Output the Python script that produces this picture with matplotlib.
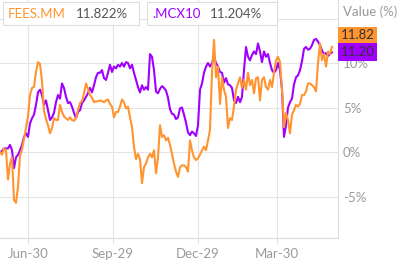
import numpy as np
import matplotlib
matplotlib.use("Agg")
import matplotlib.pyplot as plt
from matplotlib.patches import Rectangle

# values in %, one sample per ~1.5 trading days
fees = [
    0.0, -0.3, 0.4, 0.2, -3.1, -1.3, -0.6, -5.4, -5.7, -3.9,
    -0.4, 0.3, 1.5, 2.7, 4.0, 6.4, 7.2, 7.3, 9.0, 10.1,
    9.9, 8.0, 4.6, 3.7, 3.0, 2.1, 2.7, 3.8, 3.6, 3.6,
    5.3, 4.5, 4.0, 3.8, 3.6, 3.9, 3.6, 3.5, 3.8, 4.7,
    5.5, 5.7, 6.6, 7.7, 7.1, 6.4, 6.1, 5.6, 5.7, 5.7,
    5.8, 5.7, 5.6, 5.8, 5.9, 5.4, 5.1, 3.9, 4.5, 4.5,
    5.1, 5.9, 5.6, 4.9, 5.1, 3.9, 2.8, 0.6, -0.8, -0.2,
    -0.8, -3.5, -1.7, -1.3, -0.6, -0.2, -0.6, 0.2, -2.4, -0.6,
    3.0, 1.7, 1.9, 1.3, 1.6, 0.8, -0.2, -1.3, -2.2, -2.8,
    -1.7, -1.5, -1.5, -1.7, -2.2, 1.3, 0.2, -0.6, -0.9, -0.7,
    -0.3, 0.2, 0.6, 0.2, 1.3, 2.5, 8.9, 12.6, 8.4, 9.6,
    5.4, 8.4, 7.0, 6.2, 2.7, 3.8, 3.6, 5.1, 7.0, 7.7,
    8.4, 7.2, 8.1, 7.0, 8.9, 7.5, 8.1, 6.6, 8.3, 8.4,
    5.8, 8.1, 8.4, 7.3, 7.0, 8.1, 7.3, 8.9, 10.3, 10.7,
    10.1, 7.0, 2.8, 4.4, 3.6, 2.1, 4.2, 4.7, 5.3, 5.1,
    5.4, 6.4, 6.4, 6.8, 7.7, 7.7, 7.5, 7.3, 6.8, 10.0,
    12.2, 10.3, 11.0, 9.6, 11.3, 11.0, 11.822,
]
mcx = [
    0.0, 0.1, 0.4, 0.4, 0.4, 0.8, 0.2, -1.8, -0.6, -0.3,
    0.2, 0.8, 1.7, 2.1, 1.7, 3.2, 3.8, 4.2, 5.3, 6.7,
    7.0, 6.4, 5.3, 5.8, 4.7, 3.6, 3.9, 4.4, 5.6, 6.4,
    6.0, 7.7, 7.2, 6.2, 5.5, 5.6, 5.1, 4.4, 3.8, 4.5,
    4.7, 5.5, 5.8, 6.2, 6.6, 7.2, 6.7, 7.5, 8.4, 8.9,
    8.9, 9.2, 8.3, 8.1, 8.9, 9.8, 9.0, 9.6, 9.4, 9.8,
    9.6, 10.0, 9.6, 10.1, 10.0, 9.4, 9.8, 8.9, 8.1, 7.3,
    6.7, 7.5, 7.0, 7.3, 7.0, 11.0, 10.7, 9.2, 6.8, 6.6,
    7.1, 7.4, 7.2, 6.9, 6.1, 4.8, 4.3, 4.2, 3.7, 3.9,
    4.9, 5.0, 4.2, 3.3, 2.2, 1.9, 2.3, 2.1, 1.8, 3.0,
    7.0, 7.7, 8.9, 9.6, 10.0, 9.6, 10.0, 10.7, 10.0, 9.6,
    9.0, 8.9, 7.8, 8.3, 7.6, 7.5, 7.2, 5.8, 5.5, 6.2,
    5.6, 6.2, 9.2, 11.8, 10.7, 10.3, 10.9, 11.3, 11.0, 12.2,
    11.3, 10.1, 11.3, 10.7, 11.0, 10.0, 9.2, 8.9, 9.2, 10.0,
    9.2, 7.0, 1.7, 3.0, 5.0, 5.6, 6.0, 7.6, 8.4, 8.6,
    9.2, 10.2, 11.6, 11.8, 11.5, 11.6, 12.0, 12.6, 12.7, 12.4,
    12.0, 11.4, 11.0, 11.1, 10.8, 11.0, 11.204,
]
tick_pos = [14, 56.5, 99, 138.5]
tick_labels = ["Jun-30", "Sep-29", "Dec-29", "Mar-30"]
y_ticks = [-5, 0, 5, 10, 15]
y_labels = ["-5%", "0%", "5%", "10%", ""]

ORANGE = "#ff9430"
PURPLE = "#a000ff"
GRID = "#e4e4e4"
GREY = "#9a9a9a"
FS = 9.5

plt.rcParams["font.family"] = ["Lato", "DejaVu Sans"]

W, H = 400, 267
fig = plt.figure(figsize=(4, 2.67), dpi=100)
ax = fig.add_axes([0, 1 - 238 / H, 338 / W, 238 / H])


def px(x, y):
    # pixel position (from top-left) -> figure fraction
    return x / W, 1 - y / H


ax.plot(np.arange(len(mcx)), mcx, color=PURPLE, lw=1.5, solid_joinstyle="round")
ax.plot(np.arange(len(fees)), fees, color=ORANGE, lw=1.5, solid_joinstyle="round")

ax.set_xlim(0, 169)
ax.set_ylim(-9.66, 17.08)
ax.set_xticks(tick_pos)
ax.set_xticklabels(tick_labels)
ax.set_yticks(y_ticks)
ax.set_yticklabels(y_labels)
ax.yaxis.tick_right()
ax.grid(True, color=GRID, lw=0.8)
ax.set_axisbelow(True)
for s in ["left", "top"]:
    ax.spines[s].set_visible(False)
for s in ["right", "bottom"]:
    ax.spines[s].set_color("#dcdcdc")
    ax.spines[s].set_linewidth(0.8)
ax.tick_params(axis="x", length=4.5, width=0.8, color=GRID, labelcolor=GREY,
               labelsize=FS, pad=2.5)
ax.tick_params(axis="y", length=0, labelcolor=GREY, labelsize=FS, pad=3.5)

# legend boxes
for x0, x1 in [(3, 139), (147, 277)]:
    fx, fy = px(x0, 25)
    fig.patches.append(Rectangle((fx, fy), (x1 - x0) / W, 23 / H,
                                 transform=fig.transFigure, facecolor="white",
                                 edgecolor="#dddddd", lw=0.8, zorder=5))
for x, txt, c in [(8, "FEES.MM", ORANGE), (76, "11.822%", "#555555"),
                  (152, ".MCX10", PURPLE), (210, "11.204%", "#555555")]:
    fig.text(*px(x, 13.5), txt, color=c, fontsize=FS, va="center", ha="left", zorder=6)

# value badges on the right
for y0, y1, txt, c in [(27, 43, "11.82", ORANGE), (43, 61, "11.20", PURPLE)]:
    fx, fy = px(338, y1)
    fig.patches.append(Rectangle((fx, fy), 39 / W, (y1 - y0) / H,
                                 transform=fig.transFigure, facecolor=c,
                                 edgecolor="none", zorder=5))
    fig.text(*px(357.5, (y0 + y1) / 2), txt, color="#333333", fontsize=FS,
             va="center", ha="center", zorder=6)

fig.text(*px(343, 12), "Value (%)", color=GREY, fontsize=FS, va="center", ha="left")

fig.savefig("out.png", dpi=100, facecolor="white")
